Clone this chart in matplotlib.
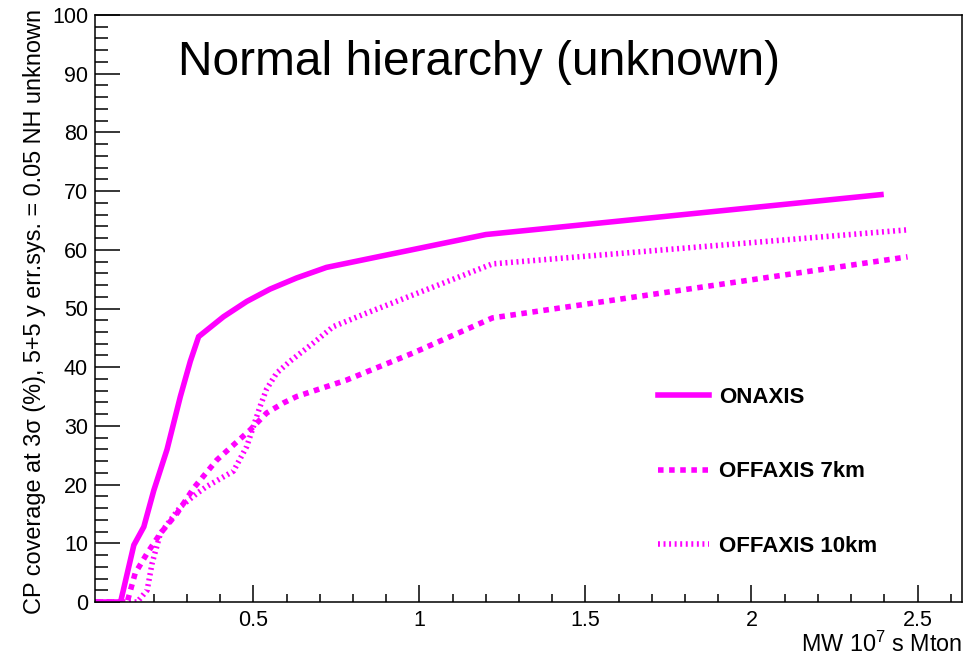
import matplotlib
matplotlib.use("Agg")
import matplotlib.pyplot as plt
from matplotlib.ticker import MultipleLocator, FixedLocator, FixedFormatter

plt.rcParams['font.family'] = ['Liberation Sans', 'DejaVu Sans']
plt.rcParams['mathtext.fontset'] = 'custom'
plt.rcParams['mathtext.rm'] = 'Liberation Sans'

# Exposure (MW 10^7 s Mton) vs CP coverage (%)
onaxis_x = [0.025, 0.10, 0.14, 0.17, 0.20, 0.24, 0.28, 0.31, 0.335, 0.41, 0.48,
            0.55, 0.63, 0.72, 1.20, 2.39]
onaxis_y = [0.0, 0.0, 9.7, 12.8, 19.0, 26.0, 35.0, 41.0, 45.2, 48.6, 51.2,
            53.3, 55.2, 57.0, 62.6, 69.4]

off7_x = [0.025, 0.12, 0.144, 0.18, 0.22, 0.27, 0.32, 0.39, 0.435, 0.49, 0.54,
          0.59, 0.63, 0.78, 0.98, 1.22, 2.47]
off7_y = [0.0, 0.0, 4.9, 8.3, 11.7, 15.1, 19.4, 24.2, 26.5, 29.3, 32.2,
          33.9, 35.0, 37.8, 42.4, 48.4, 58.8]

off10_x = [0.025, 0.15, 0.18, 0.195, 0.22, 0.28, 0.33, 0.36, 0.44, 0.48, 0.50,
           0.52, 0.54, 0.57, 0.61, 0.68, 0.74, 0.84, 0.98, 1.22, 2.47]
off10_y = [0.0, 0.0, 2.0, 6.6, 11.7, 16.2, 18.5, 19.7, 22.3, 26.5, 29.9,
           33.3, 36.3, 39.0, 41.0, 44.1, 46.9, 49.2, 52.3, 57.6, 63.4]

labels = ["ONAXIS", "OFFAXIS 7km", "OFFAXIS 10km"]
x_ticks = [0.5, 1.0, 1.5, 2.0, 2.5]
x_tick_labels = ["0.5", "1", "1.5", "2", "2.5"]
y_ticks = [0, 10, 20, 30, 40, 50, 60, 70, 80, 90, 100]

W, H = 974, 659
fig = plt.figure(figsize=(W / 100, H / 100), dpi=100)
ax = fig.add_axes([95 / W, (H - 602) / H, (962 - 95) / W, (602 - 15) / H])

magenta = '#ff00ff'
lw = 4.0
ax.plot(onaxis_x, onaxis_y, color=magenta, lw=lw, solid_joinstyle='miter',
        label=labels[0])
ax.plot(off7_x, off7_y, color=magenta, lw=lw, dashes=(1.0, 1.0),
        dash_capstyle='butt', label=labels[1])
ax.plot(off10_x, off10_y, color=magenta, lw=lw, dashes=(0.35, 0.65),
        dash_capstyle='butt', label=labels[2])

ax.set_xlim(0.023, 2.634)
ax.set_ylim(0, 100)

ax.xaxis.set_major_locator(FixedLocator(x_ticks))
ax.xaxis.set_major_formatter(FixedFormatter(x_tick_labels))
ax.xaxis.set_minor_locator(MultipleLocator(0.1))
ax.yaxis.set_major_locator(FixedLocator(y_ticks))
ax.yaxis.set_minor_locator(MultipleLocator(2))

ax.tick_params(axis='both', which='both', direction='in', width=1.1,
               color='black', labelsize=15.5, top=False, right=False)
ax.tick_params(axis='x', which='major', length=12.5, pad=6)
ax.tick_params(axis='x', which='minor', length=6)
ax.tick_params(axis='y', which='major', length=18, pad=5)
ax.tick_params(axis='y', which='minor', length=9.5)
for sp in ax.spines.values():
    sp.set_linewidth(1.1)

fig.text(178 / W, (H - 75) / H, "Normal hierarchy (unknown)", fontsize=34.5,
         ha='left', va='baseline')

fig.text(35 / W, (H - 312) / H,
         "CP coverage at 3\u03c3 (%), 5+5 y err.sys. = 0.05 NH unknown",
         rotation=90, ha='center', va='center', fontsize=16.9)
fig.text(962 / W, (H - 652) / H, "MW 10$^{7}$ s Mton", fontsize=16.8,
         ha='right', va='baseline')

leg = ax.legend(loc='upper left', bbox_to_anchor=(658 / W, (H - 387) / H),
                bbox_transform=fig.transFigure, frameon=False, borderpad=0,
                borderaxespad=0, handlelength=2.3, handletextpad=0.45,
                labelspacing=2.4, prop={'weight': 'bold', 'size': 16})

fig.savefig("out.png", dpi=100)
